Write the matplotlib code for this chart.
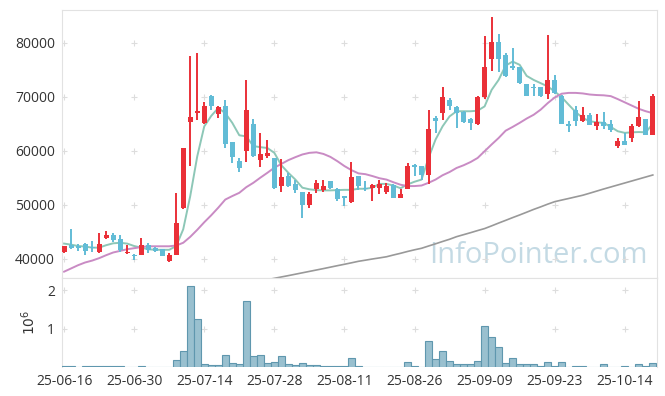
import numpy as np
import matplotlib
matplotlib.use("Agg")
import matplotlib.pyplot as plt

plt.rcParams['font.family'] = ['Open Sans', 'DejaVu Sans']

# OHLC (one row per trading day)
opens = [41300, 42600, 42350, 42850, 42150, 41200, 43800, 44400, 43650, 41050,
         40700, 40750, 42600, 42050, 41800, 39700, 40750, 49500, 65300, 67000,
         65200, 70200, 66900, 68400, 61600, 58200, 59950, 65050, 58400, 59150,
         58650, 53450, 55450, 53800, 52400, 50000, 52900, 52700, 54400, 52900,
         51600, 50550, 55350, 53200, 53200, 53200, 52400, 53650, 51300, 53000,
         57350, 57300, 55500, 66100, 67000, 69350, 68150, 67150, 65950, 65050,
         69900, 77050, 80100, 77800, 75800, 75550, 72450, 71800, 71750, 70550,
         73150, 70250, 65050, 67650, 65500, 66700, 64600, 65300, 65050, 61000,
         61800, 62400, 64550, 65900, 62900]
highs = [42450, 45500, 42700, 43050, 43350, 44900, 45100, 44900, 44500, 42600,
         40850, 43800, 43050, 42300, 41900, 41100, 52250, 60550, 77500, 78100,
         69000, 70400, 68400, 69500, 61600, 58700, 73150, 65900, 63350, 62100,
         58650, 58550, 55950, 54700, 52400, 52400, 54700, 54700, 54400, 53100,
         51600, 57950, 55450, 54400, 53900, 54700, 54100, 53950, 52900, 57800,
         57600, 57300, 67650, 66400, 71800, 69800, 68250, 67350, 66100, 70100,
         81250, 84750, 81600, 78100, 79000, 75550, 72450, 72450, 71750, 81450,
         74000, 70400, 65500, 68250, 68150, 67000, 66850, 67200, 65650, 62400,
         63350, 65000, 69200, 65900, 70550]
lows = [41150, 41800, 41400, 40700, 41200, 41100, 43650, 43150, 41200, 40950,
        39900, 40700, 41100, 41200, 40500, 39350, 40700, 49300, 57300, 65800,
        65050, 67600, 66100, 60550, 57800, 56100, 57950, 58900, 57050, 58650,
        52900, 52450, 53350, 52250, 47500, 49500, 52250, 52450, 52900, 50700,
        49900, 50400, 52750, 52550, 50700, 52100, 51950, 51300, 51250, 52900,
        55350, 54700, 53900, 63350, 65650, 67500, 64250, 65200, 63950, 64750,
        69650, 74850, 74700, 73650, 75000, 72350, 70100, 70100, 70000, 69700,
        70550, 64900, 63550, 64550, 65300, 64750, 63800, 64050, 63450, 60550,
        61050, 61600, 64400, 62900, 62900]
closes = [42350, 42050, 42100, 41500, 42000, 42850, 44350, 43550, 41700, 41250,
          40550, 42550, 41700, 41500, 40550, 40800, 46600, 60550, 66300, 67450,
          68250, 68250, 68150, 61350, 58850, 56900, 67650, 59150, 59500, 59650,
          53200, 55150, 53450, 52700, 50000, 51950, 54050, 53600, 53050, 51150,
          51300, 55150, 53500, 52900, 53650, 53800, 53600, 51300, 52100, 57300,
          57000, 55500, 64150, 65600, 69950, 68250, 67000, 65300, 65150, 69950,
          75600, 80100, 77000, 73900, 75300, 72500, 70250, 71600, 70250, 73150,
          70700, 65050, 64550, 65500, 66700, 64850, 65300, 64700, 63800, 61800,
          61050, 64700, 66250, 62900, 70250]

# volume in millions of shares
volume = [0.04, 0.04, 0.0, 0.03, 0.03, 0.03, 0.03, 0.03, 0.03, 0.0,
          0.0, 0.03, 0.0, 0.0, 0.0, 0.0, 0.19, 0.43, 2.11, 1.26,
          0.08, 0.06, 0.06, 0.32, 0.11, 0.08, 1.72, 0.29, 0.32, 0.11,
          0.14, 0.29, 0.08, 0.06, 0.11, 0.06, 0.06, 0.04, 0.04, 0.04,
          0.04, 0.24, 0.05, 0.02, 0.02, 0.02, 0.02, 0.02, 0.02, 0.13,
          0.05, 0.01, 0.69, 0.22, 0.43, 0.17, 0.08, 0.08, 0.08, 0.17,
          1.07, 0.79, 0.52, 0.11, 0.24, 0.08, 0.08, 0.08, 0.05, 0.13,
          0.05, 0.13, 0.01, 0.05, 0.05, 0.01, 0.01, 0.08, 0.01, 0.01,
          0.05, 0.01, 0.10, 0.05, 0.12]

# moving average lines as drawn on the chart
ma_short = [42850, 42650, 42400, 42300, 42100, 42100, 42550, 42900, 43000, 42850,
            42400, 42100, 41800, 41700, 41700, 41700, 42400, 45500, 51650, 59000,
            64550, 66500, 67950, 67000, 65200, 62900, 62700, 60900, 60700, 60550,
            59650, 57350, 55950, 54700, 53200, 52900, 52750, 52700, 52700, 52750,
            52800, 52800, 53000, 53000, 53200, 53900, 53900, 53600, 53100, 53800,
            54300, 54700, 58700, 62100, 64550, 66400, 67350, 67350, 67350, 67450,
            68250, 71300, 73150, 75800, 76550, 75950, 73900, 73150, 72550, 71950,
            71000, 69950, 68550, 67200, 66100, 65500, 65300, 65200, 64450, 63650,
            63350, 63450, 63500, 63450, 65050]
ma_mid = [37650, 38250, 38850, 39350, 39700, 40150, 40700, 41200, 41500, 41800,
          42000, 42200, 42350, 42350, 42350, 42350, 42500, 43000, 44100, 45400,
          46800, 48100, 49500, 51000, 51650, 52250, 53300, 54100, 55050, 55950,
          56900, 57600, 58300, 58850, 59350, 59650, 59750, 59450, 58900, 58100,
          57200, 56450, 55850, 55700, 55350, 54950, 54700, 54200, 53750, 53500,
          53500, 53600, 54100, 54700, 55500, 56100, 56850, 57350, 57950, 58700,
          59950, 61200, 62400, 63750, 64450, 65200, 66000, 66700, 67650, 68850,
          69900, 70600, 70750, 70750, 70650, 70450, 70350, 70300, 70150, 69600,
          69000, 68400, 67800, 67350, 67000]
ma_long_start = 29
ma_long = [36160, 36420, 36670, 36920, 37180, 37440, 37700, 37960, 38220, 38490,
           38760, 39020, 39290, 39570, 39780, 40000, 40200, 40410, 40740, 41050,
           41390, 41700, 41980, 42400, 42810, 43240, 43650, 44130, 44500, 44870,
           45260, 45630, 46130, 46650, 47150, 47660, 48150, 48660, 49180, 49650,
           50150, 50610, 50910, 51200, 51500, 51800, 52180, 52570, 52960, 53330,
           53700, 54070, 54440, 54810, 55180, 55550]

date_ticks = [0, 10, 20, 30, 40, 50, 60, 70, 80]
date_labels = ['25-06-16', '25-06-30', '25-07-14', '25-07-28', '25-08-11',
               '25-08-26', '25-09-09', '25-09-23', '25-10-14']
price_ticks = [40000, 50000, 60000, 70000, 80000]
vol_ticks = [1, 2]

up_col = '#ea3038'
down_col = '#62bcd6'
frame_col = '#e2e2e2'
text_col = '#333333'

fig = plt.figure(figsize=(6.65, 3.96), dpi=100)
ax = fig.add_axes([0.0932, 0.298, 0.8948, 0.6768])
axv = fig.add_axes([0.0932, 0.072, 0.8948, 0.226])

x = np.arange(len(opens))
o = np.array(opens)
c = np.array(closes)
up = c >= o
cols = np.where(up, up_col, down_col)

ax.plot(x, ma_short, color='#8dc7b7', lw=1.4, zorder=2)
ax.plot(x, ma_mid, color='#c98bc4', lw=1.4, zorder=2)
ax.plot(np.arange(ma_long_start, ma_long_start + len(ma_long)), ma_long,
        color='#999999', lw=1.2, zorder=2)

ax.vlines(x, lows, highs, colors=cols, lw=1.4, zorder=3)
body = np.maximum(np.abs(c - o), 150)
ax.bar(x, body, bottom=np.minimum(o, c), width=0.72, color=cols, zorder=4)

ax.set_xlim(-0.3, 84.6)
ax.set_ylim(36480, 86100)
ax.set_yticks(price_ticks)
ax.set_xticks(date_ticks)
ax.set_xticklabels([])

axv.bar(x, volume, width=1.0, color='#99c0cf', edgecolor='#5f97ae', lw=0.8, zorder=3)
axv.set_xlim(-0.3, 84.6)
axv.set_ylim(0, 2.32)
axv.set_yticks(vol_ticks)
axv.set_yticklabels(['1', '2'])
axv.set_xticks(date_ticks)
axv.set_xticklabels(date_labels)
axv.set_ylabel(r'$10^6$', fontsize=10, color=text_col, labelpad=6)

# little "+" marks at the grid crossings
gx, gy = np.meshgrid(date_ticks, price_ticks)
ax.scatter(gx.ravel(), gy.ravel(), marker='+', s=20, color='#dddddd', lw=0.8, zorder=1)
gx, gy = np.meshgrid(date_ticks, vol_ticks)
axv.scatter(gx.ravel(), gy.ravel(), marker='+', s=20, color='#dddddd', lw=0.8, zorder=1)

for a in (ax, axv):
    a.tick_params(length=0, labelsize=10, labelcolor=text_col, pad=5)
    for s in a.spines.values():
        s.set_color(frame_col)
axv.spines['bottom'].set_visible(False)

ax.text(0.80, 0.085, 'InfoPointer.com', transform=ax.transAxes, ha='center', va='center',
        fontsize=21, color='#c4dae4', zorder=0)

fig.savefig('out.png', dpi=100)
